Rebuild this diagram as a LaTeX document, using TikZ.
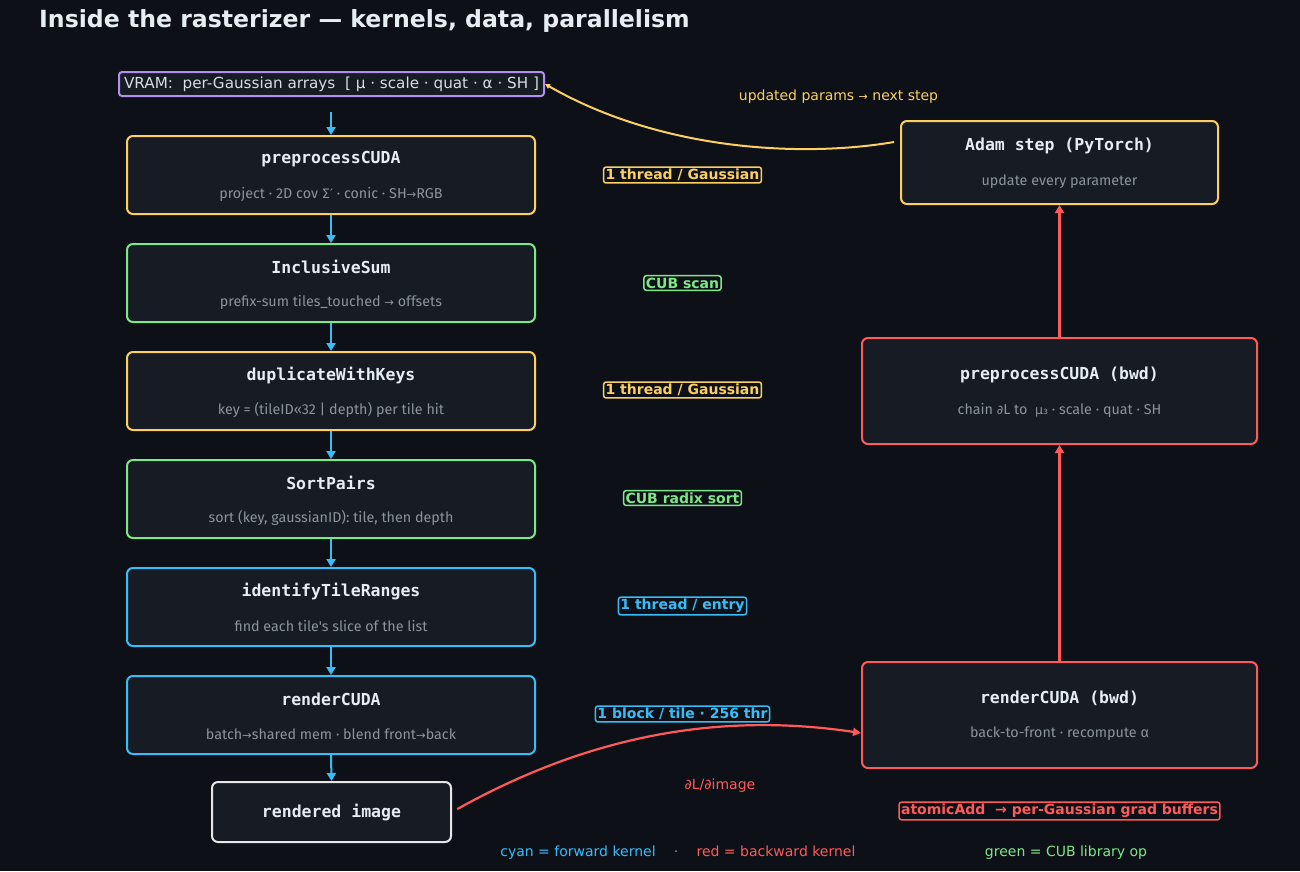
\documentclass[tikz,border=0pt]{standalone}
\usepackage{fontspec}
\setmainfont{DejaVu Sans}
\newfontfamily\monof{DejaVu Sans Mono}
\newfontfamily\latof{Fira Sans}
\newfontfamily\dvf{DejaVu Sans}
\usetikzlibrary{arrows.meta,calc}
\definecolor{bg}{HTML}{0D1117}
\definecolor{nfill}{HTML}{171B23}
\definecolor{cyel}{HTML}{FCCF62}
\definecolor{cgrn}{HTML}{7EE787}
\definecolor{ccyan}{HTML}{38BDF8}
\definecolor{cred}{HTML}{FF5A5A}
\definecolor{cpur}{HTML}{B48EF0}
\definecolor{cwht}{HTML}{E6E6E6}
\definecolor{ctxt}{HTML}{E6EDF3}
\definecolor{cgray}{HTML}{8B949E}
\tikzset{
  kbox/.style={draw, rounded corners=6pt, line width=2pt, fill=nfill, inner sep=0pt},
  ttl/.style={text=ctxt, font=\fontsize{16.5}{18}\monof\bfseries, inner sep=0pt, anchor=center},
  sub/.style={text=cgray, font=\fontsize{14.3}{16}\latof, inner sep=0pt, anchor=center},
  tag/.style={draw, rounded corners=2.5pt, line width=1.5pt, fill=bg, inner xsep=2pt, inner ysep=2pt, font=\fontsize{14}{16}\bfseries},
  fwd/.style={ccyan, line width=2pt, -{Triangle[length=8pt,width=9pt]}},
  bwd/.style={cred, line width=2.2pt, -{Triangle[length=8pt,width=9pt]}},
  plain/.style={inner sep=0pt, anchor=center},
  legend/.style={inner sep=0pt, anchor=base, font=\fontsize{14}{16}\selectfont},
}
\begin{document}
\begin{tikzpicture}[x=1pt,y=-1pt]
\fill[bg] (0,0) rectangle (1300,871);
\useasboundingbox (0,0) rectangle (1300,871);

% title
\node[plain, anchor=west, text=ctxt, font=\fontsize{23.6}{26}\bfseries] (title) at (39,21) {Inside the rasterizer — kernels, data, parallelism};

% VRAM
\node[draw=cpur, line width=2pt, rounded corners=3pt, fill=nfill, minimum width=425pt, minimum height=24pt, inner sep=0pt, text=ctxt!85!gray, font=\fontsize{15.2}{16}\selectfont] (vram) at (331.5,84) {VRAM:\ \ per-Gaussian arrays\ \ [ μ · scale · quat · α · SH ]};
\coordinate (vramout) at (331,112);

% left column
\foreach \n/\c/\y in {pre/cyel/175, isum/cgrn/283, dup/cyel/391, sort/cgrn/499, itr/ccyan/607, rend/ccyan/715}{
  \node[kbox, draw=\c, minimum width=408pt, minimum height=78pt] (\n) at (331,\y) {};
}
\node[ttl] (preT) at (331,159) {preprocessCUDA};
\node[sub] (preS) at (331,194) {project · 2D cov {\dvf\fontsize{13}{14}\selectfont Σ′} · conic · SH{\dvf\fontsize{11.5}{14}\selectfont →}RGB};
\node[ttl] (isumT) at (331,267) {InclusiveSum};
\node[sub] (isumS) at (331,302) {prefix-sum tiles\_touched {\dvf\fontsize{11.5}{14}\selectfont →} offsets};
\node[ttl] (dupT) at (331,375) {duplicateWithKeys};
\node[sub] (dupS) at (331,410) {key = (tileID«32 | depth) per tile hit};
\node[ttl] (sortT) at (331,483) {SortPairs};
\node[sub] (sortS) at (331,518) {sort (key, gaussianID): tile, then depth};
\node[ttl] (itrT) at (331,591) {identifyTileRanges};
\node[sub] (itrS) at (331,626) {find each tile's slice of the list};
\node[ttl] (rendT) at (331,699) {renderCUDA};
\node[sub] (rendS) at (331,734) {batch{\dvf\fontsize{11.5}{14}\selectfont →}shared mem · blend front{\dvf\fontsize{11.5}{14}\selectfont →}back};

\node[kbox, draw=cwht, minimum width=239pt, minimum height=60pt] (img) at (331.5,812) {};
\node[ttl] (imgT) at (331.5,812) {rendered image};

% forward arrows
\draw[fwd] (vramout) -- (pre.north);
\draw[fwd] (pre.south) -- (isum.north);
\draw[fwd] (isum.south) -- (dup.north);
\draw[fwd] (dup.south) -- (sort.north);
\draw[fwd] (sort.south) -- (itr.north);
\draw[fwd] (itr.south) -- (rend.north);
\draw[fwd] (rend.south) -- (img.north);

% middle tags
\node[tag, draw=cyel, text=cyel] (t1) at (682.5,175) {1 thread / Gaussian};
\node[tag, draw=cgrn, text=cgrn] (t2) at (682.5,283) {CUB scan};
\node[tag, draw=cyel, text=cyel] (t3) at (682.5,390) {1 thread / Gaussian};
\node[tag, draw=cgrn, text=cgrn] (t4) at (682.5,498) {CUB radix sort};
\node[tag, draw=ccyan, text=ccyan] (t5) at (682.5,606) {1 thread / entry};
\node[tag, draw=ccyan, text=ccyan] (t6) at (682.5,714) {1 block / tile · 256 thr};

% right column
\node[kbox, draw=cyel, minimum width=317pt, minimum height=83pt] (adam) at (1059.5,162.5) {};
\node[ttl] (adamT) at (1059.5,146) {Adam step (PyTorch)};
\node[sub] (adamS) at (1059.5,182) {update every parameter};

\node[kbox, draw=cred, minimum width=395pt, minimum height=106pt] (prebwd) at (1059.5,391) {};
\node[ttl] (prebwdT) at (1059.5,375) {preprocessCUDA (bwd)};
\node[sub] (prebwdS) at (1059.5,410) {chain {\dvf\fontsize{12.5}{14}\selectfont ∂}L to\ \ {\dvf\fontsize{12.5}{14}\selectfont μ₃} · scale · quat · SH};

\node[kbox, draw=cred, minimum width=395pt, minimum height=106pt] (rendbwd) at (1059.5,715) {};
\node[ttl] (rendbwdT) at (1059.5,698) {renderCUDA (bwd)};
\node[sub] (rendbwdS) at (1059.5,734) {back-to-front · recompute α};
\coordinate (rbin) at ($(rendbwd.west)+(0,18)$);

% backward arrows
\draw[bwd] (rendbwd.north) -- (prebwd.south);
\draw[bwd] (prebwd.north) -- (adam.south);

% red curve
\draw[cred, line width=2.2pt, -{Triangle[length=8pt,width=8pt]}, shorten <=6pt] (img.east) .. controls (590,735) and (720,712) .. (rbin);
\node[plain, text=cred, font=\fontsize{14}{16}\selectfont] (dimg) at (720,786) {∂L/∂image};

% yellow curve
\draw[cyel, line width=2pt, -{Triangle[length=5pt,width=5pt]}, shorten <=6pt] (adam.west |- 0,141) .. controls (800,158) and (660,150) .. (vram.east);
\node[plain, text=cyel, font=\fontsize{14}{16}\selectfont] (upd) at (838.5,97) {updated params {\fontsize{11}{14}\selectfont →} next step};

% atomicAdd
\node[tag, draw=cred, text=cred] (atom) at (1059.5,811) {atomicAdd\ \ → per-Gaussian grad buffers};

% legend
\node[legend, text=ccyan] (lg1) at (578,856) {cyan = forward kernel};
\node[legend, text=cgray] (lg2) at (676,856) {·};
\node[legend, text=cred] (lg3) at (776,856) {red = backward kernel};
\node[legend, text=cgrn] (lg4) at (1066,856) {green = CUB library op};
\end{tikzpicture}
\end{document}
